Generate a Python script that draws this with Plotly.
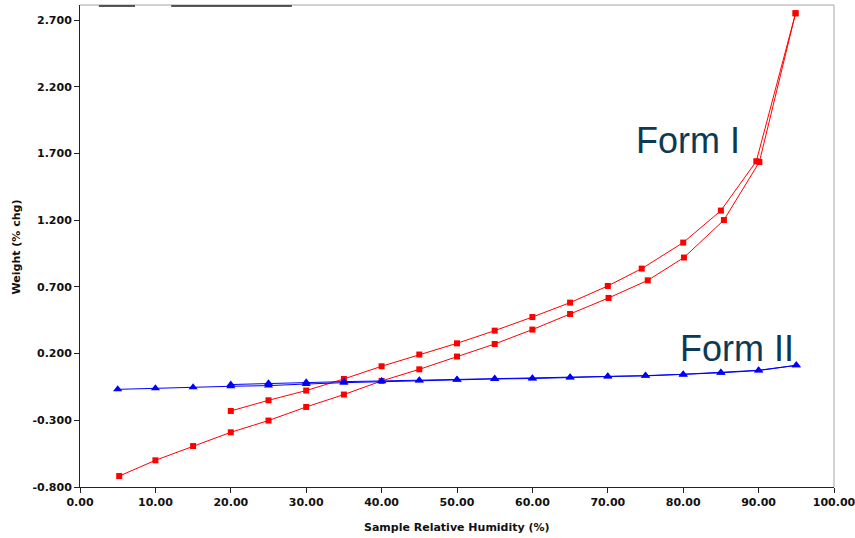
import plotly.graph_objects as go

# Form I (red squares): branch A 20 -> 95, branch B 95 -> 5
form1_up_rh = [20.0, 25.0, 30.0, 35.0, 40.0, 45.0, 50.0, 55.0, 60.0, 65.0, 70.0, 74.5, 80.0, 85.0, 89.7, 94.9]
form1_up_wt = [-0.230, -0.150, -0.077, 0.010, 0.105, 0.193, 0.277, 0.372, 0.474, 0.582, 0.707, 0.837, 1.032, 1.272, 1.642, 2.751]
form1_dn_rh = [94.9, 90.1, 85.4, 80.1, 75.3, 70.1, 65.0, 60.0, 55.0, 50.0, 45.0, 40.0, 35.0, 30.0, 25.0, 20.0, 15.0, 10.0, 5.2]
form1_dn_wt = [2.751, 1.636, 1.201, 0.920, 0.749, 0.617, 0.497, 0.380, 0.272, 0.178, 0.082, -0.005, -0.107, -0.200, -0.302, -0.390, -0.493, -0.600, -0.718]

# Form II (blue triangles)
form2_up_rh = [20.0, 25.0, 30.0, 35.0, 40.0, 45.0, 50.0, 55.0, 60.0, 65.0, 70.0, 75.0, 80.0, 85.0, 90.0, 95.0]
form2_up_wt = [-0.032, -0.023, -0.015, -0.010, -0.005, 0.000, 0.005, 0.013, 0.015, 0.022, 0.030, 0.035, 0.045, 0.058, 0.075, 0.112]
form2_dn_rh = [95.0, 90.0, 85.0, 80.0, 75.0, 70.0, 65.0, 60.0, 55.0, 50.0, 45.0, 40.0, 35.0, 30.0, 25.0, 20.0, 15.0, 10.0, 5.0]
form2_dn_wt = [0.112, 0.073, 0.056, 0.042, 0.033, 0.028, 0.020, 0.013, 0.010, 0.004, -0.002, -0.007, -0.018, -0.028, -0.040, -0.045, -0.053, -0.060, -0.068]

x_ticks = [0, 10, 20, 30, 40, 50, 60, 70, 80, 90, 100]
y_ticks = [-0.8, -0.3, 0.2, 0.7, 1.2, 1.7, 2.2, 2.7]
x_ticktext = ["%.2f" % v for v in x_ticks]
y_ticktext = ["%.3f" % v for v in y_ticks]

RED = "#ff0000"
BLUE = "#0000ff"

fig = go.Figure()
for xs, ys in [(form1_up_rh, form1_up_wt), (form1_dn_rh, form1_dn_wt)]:
    fig.add_trace(go.Scatter(x=xs, y=ys, mode="lines+markers",
                             line=dict(color=RED, width=1),
                             marker=dict(symbol="square", size=6, color=RED),
                             showlegend=False))
for xs, ys in [(form2_up_rh, form2_up_wt), (form2_dn_rh, form2_dn_wt)]:
    fig.add_trace(go.Scatter(x=xs, y=ys, mode="lines+markers",
                             line=dict(color=BLUE, width=1),
                             marker=dict(symbol="triangle-up", size=8, color=BLUE),
                             showlegend=False))

BOLD = dict(family="DejaVu Sans, Verdana, sans-serif", size=11, color="#111111", weight="bold")

fig.update_layout(
    width=855, height=538,
    margin=dict(l=80, r=21, t=5, b=51),
    paper_bgcolor="white", plot_bgcolor="white",
    xaxis=dict(range=[0, 100], tickvals=x_ticks, ticktext=x_ticktext,
               showgrid=False, zeroline=False, showline=True, linecolor="#222222", linewidth=1,
               ticks="outside", ticklen=5, tickcolor="#222222", tickfont=BOLD,
               ticklabeloverflow="allow", automargin=False),
    yaxis=dict(range=[-0.8, 2.813], tickvals=y_ticks, ticktext=y_ticktext,
               showgrid=False, zeroline=False, showline=True, linecolor="#222222", linewidth=1,
               ticks="outside", ticklen=5, tickcolor="#222222", tickfont=BOLD, automargin=False),
    shapes=[
        dict(type="line", xref="paper", yref="paper", x0=0, x1=1, y0=1, y1=1,
             line=dict(color="#a6a6a6", width=1)),
        dict(type="line", xref="paper", yref="paper", x0=1, x1=1, y0=0, y1=1,
             line=dict(color="#a6a6a6", width=1)),
        dict(type="line", xref="x", yref="paper", x0=2.5, x1=7.3, y0=0.998, y1=0.998,
             line=dict(color="#222222", width=1.5)),
        dict(type="line", xref="x", yref="paper", x0=12.1, x1=28.1, y0=0.998, y1=0.998,
             line=dict(color="#222222", width=1.5)),
    ],
    annotations=[
        dict(text="Sample Relative Humidity (%)", xref="paper", yref="paper",
             x=0.5, y=-0.083, xanchor="center", yanchor="middle", showarrow=False,
             font=BOLD),
        dict(text="Weight (% chg)", xref="paper", yref="paper", textangle=-90,
             x=-0.0836, y=0.499, xanchor="center", yanchor="middle", showarrow=False,
             font=BOLD),
        dict(text="Form I", xref="x", yref="y", x=80.6, y=1.80, xanchor="center", yanchor="middle",
             showarrow=False, font=dict(family="Liberation Sans, Arial, sans-serif", size=36, color="#0c3a55")),
        dict(text="Form II", xref="x", yref="y", x=87.2, y=0.235, xanchor="center", yanchor="middle",
             showarrow=False, font=dict(family="Liberation Sans, Arial, sans-serif", size=36, color="#0c3a55")),
    ],
)

fig.write_html("out.html")
